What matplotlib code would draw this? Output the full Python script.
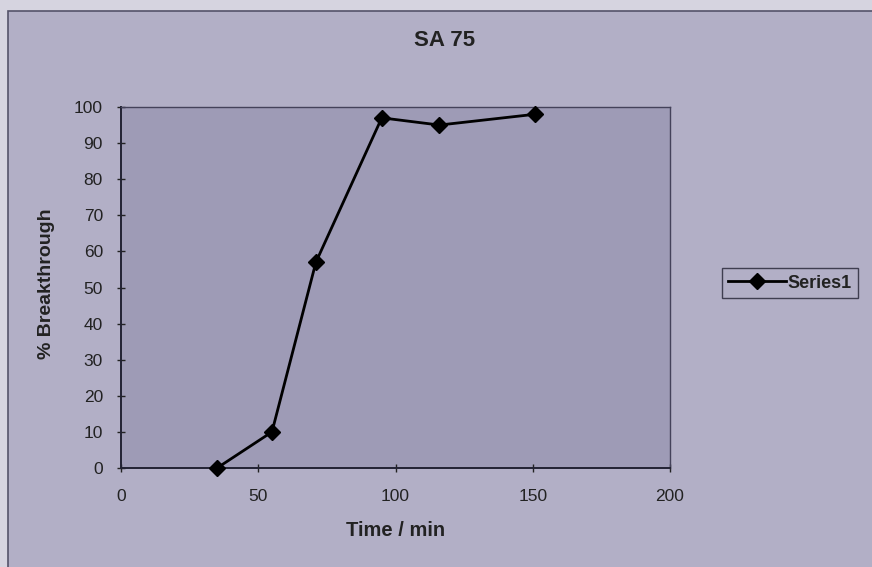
import matplotlib.pyplot as plt
from matplotlib.patches import Rectangle

plt.rcParams['font.family'] = ['Liberation Sans', 'DejaVu Sans']

# Breakthrough data
time_min = [35, 55, 71, 95, 116, 151]
breakthrough = [0, 10, 57, 97, 95, 98]
x_ticks = [0, 50, 100, 150, 200]
y_ticks = [0, 10, 20, 30, 40, 50, 60, 70, 80, 90, 100]

fig = plt.figure(figsize=(8.72, 5.67), dpi=100)
fig.patch.set_facecolor('#d6d4e0')

# chart area frame, like the Excel chart box
fig.patches.append(Rectangle((8 / 872, -0.01), 1.0, 1 - 11 / 567 + 0.01,
                             transform=fig.transFigure, facecolor='#b2afc6',
                             edgecolor='#55536a', linewidth=1.2, zorder=-10))

ax = fig.add_axes([121 / 872, 1 - 468 / 567, 549 / 872, 361 / 567])
ax.set_facecolor('#9e9bb6')

ax.plot(time_min, breakthrough, color='black', linewidth=2,
        marker='D', markersize=8, label='Series1', clip_on=False, zorder=5)

ax.set_xlim(0, 200)
ax.set_ylim(0, 100)
ax.set_xticks(x_ticks)
ax.set_yticks(y_ticks)
ax.tick_params(direction='inout', length=6, width=1, labelsize=12.5,
               colors='#222222')
ax.tick_params(axis='x', pad=12)
ax.tick_params(axis='y', pad=10)

for side in ['left', 'bottom']:
    ax.spines[side].set_color('#222233')
    ax.spines[side].set_linewidth(1.4)
for side in ['top', 'right']:
    ax.spines[side].set_color('#44425a')
    ax.spines[side].set_linewidth(1.0)

ax.set_xlabel('Time / min', fontsize=14.5, fontweight='bold', color='#222222')
ax.set_ylabel('% Breakthrough', fontsize=14, fontweight='bold', color='#222222')
ax.xaxis.set_label_coords(0.5, -0.148)
ax.yaxis.set_label_coords(-0.12, 0.51)
fig.text(445 / 872, 1 - 41 / 567, 'SA 75', ha='center', va='center',
         fontsize=16, fontweight='bold', color='#222222')

leg = fig.legend(loc='center left', bbox_to_anchor=(722 / 872, 1 - 283 / 567),
                 fontsize=13, frameon=True, fancybox=False, handlelength=3.2,
                 borderpad=0.35, handletextpad=0.1, borderaxespad=0)
leg.get_frame().set_facecolor('#b2afc6')
leg.get_frame().set_edgecolor('#222233')
leg.get_frame().set_linewidth(1.0)
for t in leg.get_texts():
    t.set_fontweight('bold')
    t.set_color('#222222')

fig.savefig('out.png', dpi=100, facecolor=fig.get_facecolor())
